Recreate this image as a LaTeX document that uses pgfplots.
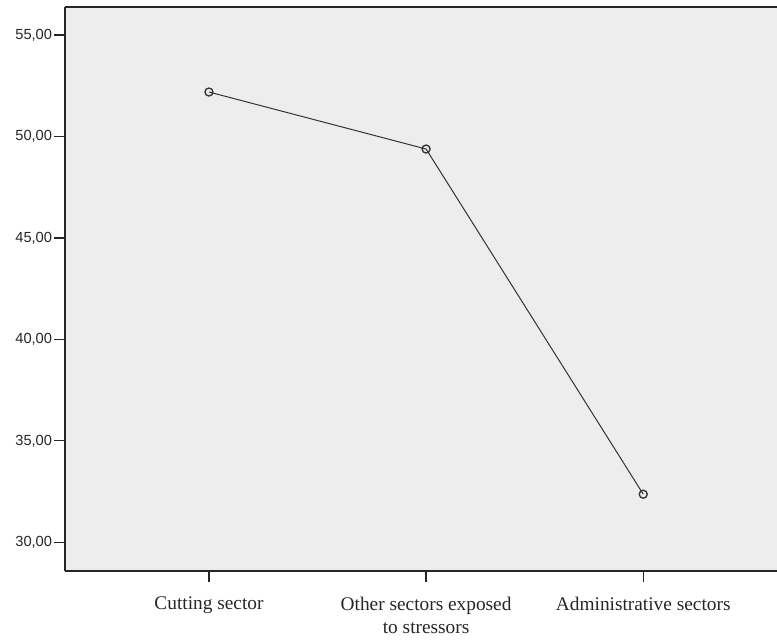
\documentclass[border=0pt]{standalone}
\usepackage{pgfplots}
\pgfplotsset{compat=1.18}
\usepackage{fontspec}
\setmainfont{Liberation Serif}
\newfontfamily\arialf{Liberation Sans}
\definecolor{bg}{HTML}{EDEDED}
\begin{document}
\begin{tikzpicture}[x=1pt,y=1pt]
\path[use as bounding box] (-48.75,-53.25) rectangle (534,428.25);
\begin{axis}[at={(0,0)}, anchor=south west, scale only axis, width=534pt, height=423pt,
 xmin=-0.663, xmax=2.616, ymin=28.585, ymax=56.38,
 axis x line*=bottom, axis y line*=left,
 axis line style={-, line width=1pt, black!85},
 axis background/.style={fill=bg},
 tick align=outside, major tick length=8.5pt, tick style={line width=1pt, black!85},
 xtick={0,1,2},
 xticklabels={Cutting sector, {Other sectors exposed\\to stressors}, Administrative sectors},
 xticklabel style={align=center, font=\fontsize{14.5}{17.5}\selectfont, black!85, yshift=-7.5pt},
 ytick={30,35,40,45,50,55},
 yticklabel style={font=\arialf\fontsize{11}{13}\selectfont, black!85, inner sep=1pt,
   /pgf/number format/fixed, /pgf/number format/fixed zerofill,
   /pgf/number format/precision=2, /pgf/number format/use comma},
 /pgf/number format/assume math mode=true,
 after end axis/.code={\draw[line width=1pt, black!85] (rel axis cs:0,1) -- (rel axis cs:1,1);},
]
\addplot[black!80, line width=0.75pt, mark=o, mark size=3pt, mark options={line width=1pt}] coordinates {(0,52.19) (1,49.38) (2,32.37)};
\end{axis}
\end{tikzpicture}
\end{document}
